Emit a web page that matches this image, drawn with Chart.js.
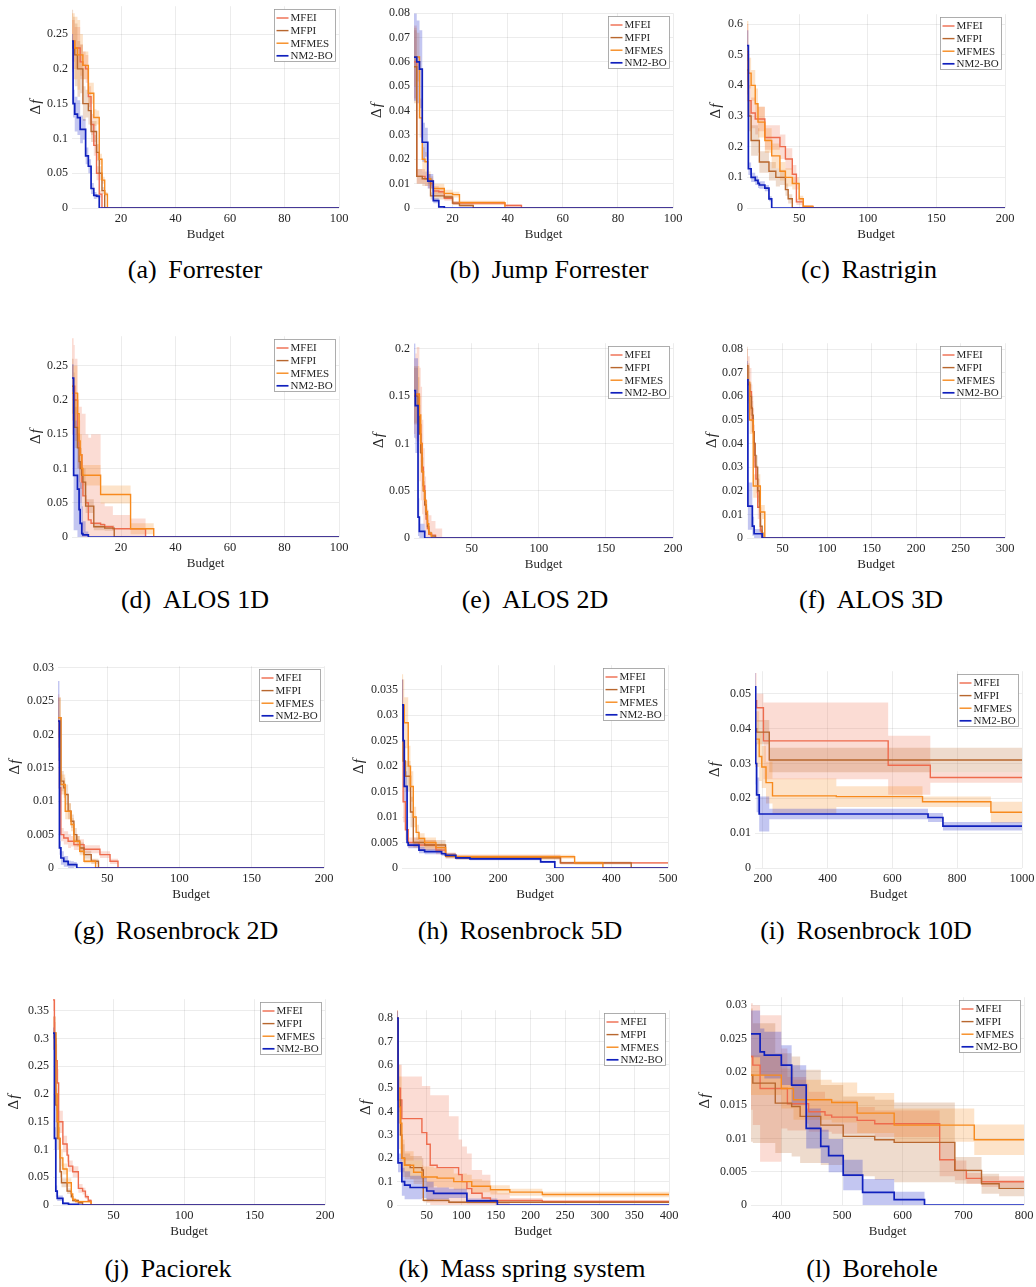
<!DOCTYPE html>
<html lang="en">
<head>
<meta charset="utf-8">
<title>Δf against budget, twelve test problems</title>
<script src="https://cdn.jsdelivr.net/npm/chart.js@4.4.1/dist/chart.umd.min.js"></script>
<style>
  body { margin: 0; background: #fff; }
  #page { position: relative; width: 1036px; height: 1287px; overflow: hidden;
          font-family: "Liberation Serif", "DejaVu Serif", serif; }
  .panel { position: absolute; }
  .caption { position: absolute; font-size: 26px; line-height: 1; color: #000;
             white-space: nowrap; transform: translate(-50%, -50%); }
  .caption .name { margin-left: 0.45em; }
</style>
</head>
<body>
<div id="page"></div>
<script>
// methods, in legend order
const methods = ['MFEI', 'MFPI', 'MFMES', 'NM2-BO'];

// each problem: budget breakpoints, mean Δf per method (MFEI, MFPI, MFMES, NM2-BO) and band half-width

// (a) Forrester
const forresterBudget = [2, 2.4, 3, 4, 5, 6, 7, 8, 9, 10, 11, 12, 13, 14, 15, 16, 100];
const forresterMean = [
  [0.24, 0.24, 0.23, 0.23, 0.21, 0.205, 0.2, 0.16, 0.12, 0.09, 0.05, 0.02, 0, 0, 0, 0, 0],
  [0.24, 0.23, 0.22, 0.2, 0.2, 0.15, 0.15, 0.14, 0.11, 0.11, 0.08, 0.05, 0.025, 0, 0, 0, 0],
  [0.24, 0.24, 0.23, 0.22, 0.22, 0.205, 0.205, 0.165, 0.165, 0.13, 0.13, 0.07, 0.04, 0.02, 0, 0, 0],
  [0.24, 0.15, 0.135, 0.13, 0.113, 0.113, 0.075, 0.06, 0.028, 0.018, 0.017, 0, 0, 0, 0, 0, 0]
];
const forresterSpread = [
  [0.03, 0.03, 0.03, 0.03, 0.025, 0.02, 0.02, 0.015, 0.015, 0.015, 0.01, 0.005, 0, 0, 0, 0, 0],
  [0.045, 0.045, 0.045, 0.04, 0.035, 0.025, 0.02, 0.02, 0.015, 0.015, 0.012, 0.01, 0.005, 0, 0, 0, 0],
  [0.04, 0.04, 0.045, 0.05, 0.03, 0.02, 0.02, 0.015, 0.015, 0.012, 0.01, 0.008, 0.005, 0.003, 0, 0, 0],
  [0.01, 0.02, 0.025, 0.025, 0.02, 0.015, 0.012, 0.01, 0.008, 0.005, 0.003, 0, 0, 0, 0, 0, 0]
];
const forresterXTicks = [20, 40, 60, 80, 100];
const forresterYTicks = [0, 0.05, 0.1, 0.15, 0.2, 0.25];

// (b) Jump Forrester
const jumpBudget = [6, 7, 8, 9, 10, 11, 12, 13, 15, 17, 20, 22.5, 27.5, 39, 45, 100];
const jumpMean = [
  [0.06, 0.013, 0.013, 0.013, 0.012, 0.011, 0.01, 0.007, 0.0067, 0.004, 0.002, 0.002, 0.002, 0.001, 0, 0],
  [0.058, 0.013, 0.013, 0.012, 0.012, 0.012, 0.005, 0.005, 0.005, 0.0045, 0.002, 0.001, 0, 0, 0, 0],
  [0.062, 0.062, 0.037, 0.02, 0.019, 0.012, 0.011, 0.008, 0.008, 0.006, 0.0055, 0.0022, 0.0022, 0, 0, 0],
  [0.062, 0.06, 0.057, 0.027, 0.027, 0.011, 0.011, 0.003, 0.0005, 0, 0, 0, 0, 0, 0, 0]
];
const jumpSpread = [
  [0.015, 0.003, 0.003, 0.003, 0.003, 0.003, 0.002, 0.002, 0.0015, 0.001, 0.0008, 0.0008, 0.0008, 0.0005, 0, 0],
  [0.015, 0.003, 0.003, 0.003, 0.003, 0.002, 0.0015, 0.0015, 0.0015, 0.001, 0.0008, 0.0005, 0, 0, 0, 0],
  [0.012, 0.01, 0.008, 0.005, 0.004, 0.003, 0.002, 0.002, 0.002, 0.0015, 0.0012, 0.0008, 0.0008, 0, 0, 0],
  [0.018, 0.017, 0.016, 0.008, 0.006, 0.003, 0.003, 0.001, 0.0003, 0, 0, 0, 0, 0, 0, 0]
];
const jumpXTicks = [20, 40, 60, 80, 100];
const jumpYTicks = [0, 0.01, 0.02, 0.03, 0.04, 0.05, 0.06, 0.07, 0.08];

// (c) Rastrigin
const rastriginBudget = [12, 13, 15, 18, 20, 21, 25, 28, 30, 33, 36, 40, 42, 45, 48, 50, 53, 60, 200];
const rastriginMean = [
  [0.5, 0.35, 0.31, 0.29, 0.29, 0.29, 0.23, 0.23, 0.23, 0.23, 0.2, 0.16, 0.16, 0.11, 0.02, 0.02, 0.005, 0, 0],
  [0.45, 0.3, 0.22, 0.22, 0.22, 0.15, 0.15, 0.12, 0.12, 0.1, 0.1, 0.06, 0.03, 0, 0, 0, 0, 0, 0],
  [0.51, 0.44, 0.4, 0.34, 0.28, 0.28, 0.22, 0.22, 0.17, 0.17, 0.12, 0.1, 0.1, 0.08, 0.08, 0.03, 0.005, 0, 0],
  [0.53, 0.128, 0.1, 0.09, 0.08, 0.075, 0.065, 0.03, 0, 0, 0, 0, 0, 0, 0, 0, 0, 0, 0]
];
const rastriginSpread = [
  [0.1, 0.05, 0.05, 0.05, 0.04, 0.04, 0.04, 0.04, 0.04, 0.04, 0.04, 0.035, 0.035, 0.03, 0.01, 0.01, 0.003, 0, 0],
  [0.08, 0.05, 0.05, 0.05, 0.04, 0.035, 0.035, 0.03, 0.03, 0.03, 0.025, 0.02, 0.015, 0, 0, 0, 0, 0, 0],
  [0.1, 0.05, 0.05, 0.05, 0.05, 0.05, 0.04, 0.04, 0.04, 0.04, 0.03, 0.03, 0.03, 0.02, 0.02, 0.01, 0.003, 0, 0],
  [0.05, 0.02, 0.015, 0.015, 0.015, 0.012, 0.01, 0.008, 0, 0, 0, 0, 0, 0, 0, 0, 0, 0, 0]
];
const rastriginXTicks = [50, 100, 150, 200];
const rastriginYTicks = [0, 0.1, 0.2, 0.3, 0.4, 0.5, 0.6];

// (d) ALOS 1D
const alos1Budget = [2, 2.6, 3, 4, 4.6, 5, 5.6, 6, 7, 8, 9, 10, 12.5, 14, 17, 17.5, 23.5, 29, 32, 100];
const alos1Mean = [
  [0.22, 0.22, 0.2, 0.15, 0.13, 0.12, 0.08, 0.06, 0.05, 0.025, 0.02, 0.02, 0.018, 0.015, 0.012, 0.012, 0.012, 0, 0, 0],
  [0.22, 0.2, 0.16, 0.13, 0.11, 0.1, 0.09, 0.08, 0.045, 0.045, 0.045, 0.015, 0.015, 0.013, 0.013, 0, 0, 0, 0, 0],
  [0.21, 0.21, 0.21, 0.18, 0.14, 0.12, 0.1, 0.09, 0.09, 0.09, 0.09, 0.09, 0.062, 0.062, 0.062, 0.062, 0.012, 0.012, 0, 0],
  [0.232, 0.09, 0.09, 0.07, 0.04, 0.02, 0.005, 0.003, 0.003, 0, 0, 0, 0, 0, 0, 0, 0, 0, 0, 0]
];
const alos1Spread = [
  [0.07, 0.06, 0.06, 0.05, 0.06, 0.07, 0.1, 0.12, 0.1, 0.12, 0.13, 0.13, 0.032, 0.03, 0.02, 0.02, 0.015, 0, 0, 0],
  [0.04, 0.04, 0.03, 0.03, 0.03, 0.03, 0.02, 0.02, 0.01, 0.01, 0.01, 0.005, 0.005, 0.004, 0.004, 0, 0, 0, 0, 0],
  [0.04, 0.04, 0.04, 0.03, 0.03, 0.03, 0.02, 0.015, 0.015, 0.015, 0.015, 0.015, 0.013, 0.013, 0.013, 0.013, 0.008, 0.008, 0, 0],
  [0.02, 0.08, 0.08, 0.08, 0.07, 0.06, 0.04, 0.02, 0.005, 0, 0, 0, 0, 0, 0, 0, 0, 0, 0, 0]
];
const alos1XTicks = [20, 40, 60, 80, 100];
const alos1YTicks = [0, 0.05, 0.1, 0.15, 0.2, 0.25];

// (e) ALOS 2D
const alos2Budget = [7, 8, 9, 10, 11, 12, 13, 14, 15, 16, 17, 18, 20, 23, 28, 200];
const alos2Mean = [
  [0.15, 0.15, 0.152, 0.152, 0.12, 0.1, 0.075, 0.055, 0.035, 0.02, 0.01, 0.004, 0.003, 0, 0, 0],
  [0.15, 0.15, 0.15, 0.14, 0.11, 0.09, 0.07, 0.05, 0.035, 0.025, 0.012, 0.005, 0.002, 0, 0, 0],
  [0.152, 0.152, 0.152, 0.152, 0.13, 0.1, 0.07, 0.05, 0.04, 0.028, 0.015, 0.005, 0, 0, 0, 0],
  [0.156, 0.14, 0.14, 0.022, 0.007, 0.007, 0.007, 0.007, 0, 0, 0, 0, 0, 0, 0, 0]
];
const alos2Spread = [
  [0.04, 0.045, 0.05, 0.05, 0.06, 0.06, 0.05, 0.04, 0.03, 0.02, 0.02, 0.02, 0.015, 0.01, 0, 0],
  [0.03, 0.03, 0.03, 0.03, 0.02, 0.02, 0.015, 0.01, 0.008, 0.006, 0.004, 0.002, 0.001, 0, 0, 0],
  [0.03, 0.03, 0.03, 0.03, 0.02, 0.02, 0.015, 0.01, 0.008, 0.006, 0.004, 0.002, 0, 0, 0, 0],
  [0.05, 0.05, 0.05, 0.02, 0.008, 0.008, 0.008, 0.008, 0, 0, 0, 0, 0, 0, 0, 0]
];
const alos2XTicks = [50, 100, 150, 200];
const alos2YTicks = [0, 0.05, 0.1, 0.15, 0.2];

// (f) ALOS 3D
const alos3Budget = [10, 11, 13, 15, 16, 17, 18, 19, 20, 22, 24, 25, 27, 28, 30, 300];
const alos3Mean = [
  [0.065, 0.065, 0.062, 0.055, 0.05, 0.045, 0.04, 0.03, 0.025, 0.013, 0.013, 0.003, 0, 0, 0, 0],
  [0.073, 0.065, 0.06, 0.055, 0.052, 0.045, 0.04, 0.035, 0.03, 0.02, 0.013, 0.005, 0.002, 0, 0, 0],
  [0.066, 0.066, 0.05, 0.05, 0.05, 0.022, 0.022, 0.022, 0.022, 0.022, 0.022, 0.011, 0.011, 0.011, 0, 0],
  [0.067, 0.0135, 0.0135, 0.0135, 0.005, 0.005, 0.0018, 0.0018, 0.0018, 0.0018, 0.0018, 0.0018, 0, 0, 0, 0]
];
const alos3Spread = [
  [0.015, 0.012, 0.01, 0.01, 0.01, 0.01, 0.008, 0.008, 0.006, 0.005, 0.005, 0.002, 0, 0, 0, 0],
  [0.008, 0.008, 0.006, 0.006, 0.006, 0.006, 0.005, 0.005, 0.005, 0.005, 0.004, 0.003, 0.001, 0, 0, 0],
  [0.008, 0.008, 0.006, 0.006, 0.006, 0.005, 0.005, 0.005, 0.005, 0.005, 0.005, 0.003, 0.003, 0.003, 0, 0],
  [0.008, 0.01, 0.01, 0.01, 0.004, 0.004, 0.002, 0.002, 0.002, 0.002, 0.002, 0.002, 0, 0, 0, 0]
];
const alos3XTicks = [50, 100, 150, 200, 250, 300];
const alos3YTicks = [0, 0.01, 0.02, 0.03, 0.04, 0.05, 0.06, 0.07, 0.08];

// (g) Rosenbrock 2D
const rosen2Budget = [16, 17, 18, 20, 21, 23, 25, 27, 29, 31, 34, 39, 42, 44, 45, 52, 57.5, 200];
const rosen2Mean = [
  [0.022, 0.012, 0.005, 0.0045, 0.0045, 0.004, 0.004, 0.0035, 0.0035, 0.0035, 0.0028, 0.0028, 0.0028, 0.0028, 0.002, 0.001, 0, 0],
  [0.0225, 0.0225, 0.013, 0.012, 0.011, 0.0085, 0.007, 0.005, 0.004, 0.003, 0.002, 0.001, 0.001, 0, 0, 0, 0, 0],
  [0.0225, 0.0225, 0.0125, 0.0125, 0.0085, 0.0085, 0.0065, 0.004, 0.004, 0.0025, 0.001, 0.001, 0, 0, 0, 0, 0, 0],
  [0.022, 0.003, 0.0015, 0.001, 0.001, 0.0005, 0.0005, 0.0005, 0, 0, 0, 0, 0, 0, 0, 0, 0, 0]
];
const rosen2Spread = [
  [0.004, 0.003, 0.001, 0.001, 0.001, 0.001, 0.0008, 0.0008, 0.0008, 0.0008, 0.0006, 0.0006, 0.0006, 0.0006, 0.0005, 0.0004, 0, 0],
  [0.003, 0.003, 0.0015, 0.0015, 0.0015, 0.0012, 0.001, 0.001, 0.0008, 0.0008, 0.0006, 0.0004, 0.0004, 0, 0, 0, 0, 0],
  [0.003, 0.003, 0.0015, 0.0015, 0.0012, 0.0012, 0.001, 0.0008, 0.0008, 0.0006, 0.0003, 0.0003, 0, 0, 0, 0, 0, 0],
  [0.006, 0.001, 0.001, 0.0008, 0.0008, 0.0006, 0.0005, 0.0004, 0, 0, 0, 0, 0, 0, 0, 0, 0, 0]
];
const rosen2XTicks = [50, 100, 150, 200];
const rosen2YTicks = [0, 0.005, 0.01, 0.015, 0.02, 0.025, 0.03];

// (h) Rosenbrock 5D
const rosen5Budget = [30, 32, 34, 36, 39, 41, 45, 50, 55, 60, 70, 80, 90, 100, 107, 125, 150, 275, 300, 310, 335, 385, 435, 500];
const rosen5Mean = [
  [0.032, 0.013, 0.013, 0.0075, 0.0075, 0.005, 0.005, 0.005, 0.005, 0.0045, 0.0045, 0.0045, 0.0035, 0.0035, 0.0025, 0.0022, 0.0022, 0.0022, 0.0022, 0.001, 0.001, 0.001, 0.001, 0.001],
  [0.032, 0.021, 0.021, 0.018, 0.018, 0.018, 0.011, 0.005, 0.005, 0.005, 0.0045, 0.0045, 0.0045, 0.0045, 0.0023, 0.002, 0.002, 0.002, 0.002, 0.001, 0.001, 0.001, 0, 0],
  [0.032, 0.032, 0.0285, 0.0285, 0.0285, 0.02, 0.016, 0.01, 0.007, 0.0058, 0.005, 0.005, 0.004, 0.004, 0.0025, 0.0022, 0.0022, 0.0022, 0.0022, 0.0022, 0.001, 0, 0, 0],
  [0.032, 0.025, 0.016, 0.016, 0.005, 0.0045, 0.0045, 0.0045, 0.0045, 0.0035, 0.0032, 0.0032, 0.0032, 0.0028, 0.0025, 0.002, 0.0018, 0.0012, 0, 0, 0, 0, 0, 0]
];
const rosen5Spread = [
  [0.005, 0.004, 0.004, 0.002, 0.002, 0.001, 0.001, 0.001, 0.001, 0.001, 0.001, 0.001, 0.0008, 0.0008, 0.0005, 0.0004, 0.0004, 0.0004, 0.0004, 0.0002, 0.0002, 0.0002, 0.0002, 0.0002],
  [0.005, 0.003, 0.003, 0.003, 0.003, 0.003, 0.003, 0.001, 0.001, 0.001, 0.001, 0.001, 0.001, 0.001, 0.0005, 0.0004, 0.0004, 0.0004, 0.0004, 0.0003, 0.0003, 0.0003, 0, 0],
  [0.006, 0.005, 0.005, 0.005, 0.005, 0.004, 0.003, 0.002, 0.0015, 0.001, 0.001, 0.001, 0.0008, 0.0008, 0.0005, 0.0004, 0.0004, 0.0004, 0.0004, 0.0004, 0.0003, 0, 0, 0],
  [0.005, 0.004, 0.003, 0.003, 0.0008, 0.0006, 0.0006, 0.0006, 0.0006, 0.0006, 0.0005, 0.0005, 0.0005, 0.0004, 0.0004, 0.0003, 0.0003, 0.0002, 0, 0, 0, 0, 0, 0]
];
const rosen5XTicks = [100, 200, 300, 400, 500];
const rosen5YTicks = [0, 0.005, 0.01, 0.015, 0.02, 0.025, 0.03, 0.035];

// (i) Rosenbrock 10D
const rosen10Budget = [176, 178, 181, 189, 197, 202, 210, 220, 230, 427, 587, 693, 710, 717, 756, 904, 1000];
const rosen10Mean = [
  [0.048, 0.048, 0.046, 0.046, 0.046, 0.0365, 0.0365, 0.0365, 0.0365, 0.0365, 0.0295, 0.0295, 0.0295, 0.026, 0.026, 0.026, 0.026],
  [0.04, 0.04, 0.039, 0.039, 0.039, 0.039, 0.039, 0.031, 0.031, 0.031, 0.031, 0.031, 0.031, 0.031, 0.031, 0.031, 0.031],
  [0.037, 0.037, 0.037, 0.032, 0.029, 0.029, 0.0245, 0.0245, 0.0207, 0.0205, 0.0205, 0.019, 0.019, 0.019, 0.019, 0.016, 0.016],
  [0.052, 0.03, 0.021, 0.0155, 0.0155, 0.0155, 0.0155, 0.0155, 0.0155, 0.0155, 0.0155, 0.0155, 0.0145, 0.0145, 0.012, 0.012, 0.012]
];
const rosen10Spread = [
  [0.008, 0.008, 0.004, 0.004, 0.004, 0.011, 0.011, 0.011, 0.011, 0.011, 0.0085, 0.0085, 0.0085, 0.0015, 0.0015, 0.0015, 0.0015],
  [0.005, 0.005, 0.0035, 0.0035, 0.0035, 0.0035, 0.0035, 0.0035, 0.0035, 0.0035, 0.0035, 0.0035, 0.0035, 0.0035, 0.0035, 0.0035, 0.0035],
  [0.008, 0.008, 0.008, 0.007, 0.006, 0.006, 0.006, 0.006, 0.005, 0.003, 0.003, 0.0015, 0.0015, 0.0015, 0.0015, 0.003, 0.003],
  [0.004, 0.006, 0.005, 0.005, 0.005, 0.005, 0.005, 0.0015, 0.0015, 0.0015, 0.0015, 0.0015, 0.0013, 0.0013, 0.0012, 0.0012, 0.0012]
];
const rosen10XTicks = [200, 400, 600, 800, 1000];
const rosen10YTicks = [0, 0.01, 0.02, 0.03, 0.04, 0.05];

// (j) Paciorek
const paciorekBudget = [7, 8, 9, 10, 11, 12, 13, 14, 15, 17, 18, 20, 21, 23, 25, 28, 30, 32, 34, 200];
const paciorekMean = [
  [0.37, 0.3, 0.26, 0.22, 0.15, 0.15, 0.15, 0.11, 0.11, 0.09, 0.07, 0.07, 0.06, 0.06, 0.03, 0.025, 0.015, 0.008, 0, 0],
  [0.31, 0.31, 0.18, 0.12, 0.12, 0.06, 0.04, 0.04, 0.04, 0.025, 0.025, 0.015, 0.008, 0.008, 0.004, 0, 0, 0, 0, 0],
  [0.31, 0.31, 0.2, 0.15, 0.12, 0.085, 0.085, 0.065, 0.065, 0.04, 0.04, 0.02, 0.01, 0.006, 0.006, 0.006, 0.006, 0.006, 0, 0],
  [0.31, 0.12, 0.025, 0.012, 0.012, 0.012, 0.012, 0.003, 0.003, 0.003, 0.001, 0.001, 0.001, 0.001, 0, 0, 0, 0, 0, 0]
];
const paciorekSpread = [
  [0.02, 0.03, 0.03, 0.025, 0.02, 0.02, 0.02, 0.015, 0.015, 0.012, 0.01, 0.01, 0.01, 0.01, 0.008, 0.006, 0.004, 0.003, 0, 0],
  [0.03, 0.03, 0.03, 0.02, 0.02, 0.01, 0.008, 0.008, 0.008, 0.005, 0.005, 0.004, 0.003, 0.003, 0.002, 0, 0, 0, 0, 0],
  [0.03, 0.03, 0.03, 0.025, 0.02, 0.015, 0.015, 0.01, 0.01, 0.008, 0.008, 0.005, 0.003, 0.002, 0.002, 0.002, 0.002, 0.002, 0, 0],
  [0.01, 0.02, 0.01, 0.005, 0.005, 0.005, 0.005, 0.002, 0.002, 0.002, 0.001, 0.001, 0.001, 0.001, 0, 0, 0, 0, 0, 0]
];
const paciorekXTicks = [50, 100, 150, 200];
const paciorekYTicks = [0, 0.05, 0.1, 0.15, 0.2, 0.25, 0.3, 0.35];

// (k) Mass spring system
const springBudget = [7, 8.5, 10, 12, 14, 18, 26, 31, 43, 45, 50, 55, 60, 65, 82, 89, 96, 101, 108, 115, 130, 142, 152, 170, 217, 400];
const springMean = [
  [0.8, 0.5, 0.5, 0.45, 0.37, 0.37, 0.37, 0.37, 0.31, 0.31, 0.26, 0.17, 0.17, 0.16, 0.16, 0.16, 0.13, 0.1, 0.07, 0.05, 0.03, 0.02, 0.02, 0.02, 0.015, 0.015],
  [0.8, 0.45, 0.45, 0.3, 0.2, 0.17, 0.16, 0.16, 0.15, 0.02, 0.02, 0.02, 0.02, 0.02, 0.012, 0.012, 0.012, 0.012, 0.012, 0.012, 0.012, 0.012, 0.012, 0.012, 0.012, 0.012],
  [0.8, 0.5, 0.42, 0.35, 0.2, 0.17, 0.17, 0.14, 0.12, 0.12, 0.12, 0.12, 0.12, 0.115, 0.115, 0.1, 0.1, 0.1, 0.1, 0.08, 0.08, 0.065, 0.065, 0.055, 0.045, 0.045],
  [0.8, 0.18, 0.18, 0.18, 0.1, 0.085, 0.075, 0.075, 0.075, 0.075, 0.06, 0.06, 0.05, 0.05, 0.05, 0.05, 0.05, 0.05, 0.018, 0.018, 0.018, 0.018, 0, 0, 0, 0]
];
const springSpread = [
  [0.05, 0.1, 0.1, 0.15, 0.18, 0.18, 0.18, 0.18, 0.2, 0.2, 0.25, 0.3, 0.3, 0.31, 0.22, 0.22, 0.15, 0.15, 0.15, 0.1, 0.1, 0.04, 0.03, 0.01, 0.005, 0.005],
  [0.05, 0.1, 0.1, 0.08, 0.06, 0.05, 0.05, 0.05, 0.05, 0.008, 0.008, 0.008, 0.008, 0.008, 0.005, 0.005, 0.005, 0.005, 0.005, 0.005, 0.005, 0.005, 0.005, 0.005, 0.005, 0.005],
  [0.05, 0.15, 0.18, 0.2, 0.08, 0.06, 0.06, 0.05, 0.05, 0.045, 0.045, 0.045, 0.04, 0.04, 0.04, 0.035, 0.035, 0.035, 0.03, 0.03, 0.025, 0.02, 0.02, 0.015, 0.012, 0.012],
  [0.03, 0.04, 0.04, 0.04, 0.06, 0.06, 0.05, 0.05, 0.045, 0.045, 0.04, 0.04, 0.025, 0.025, 0.02, 0.02, 0.02, 0.02, 0.01, 0.01, 0.01, 0.01, 0, 0, 0, 0]
];
const springXTicks = [50, 100, 150, 200, 250, 300, 350, 400];
const springYTicks = [0, 0.1, 0.2, 0.3, 0.4, 0.5, 0.6, 0.7, 0.8];

// (l) Borehole
const boreholeBudget = [350, 353, 365, 372, 390, 400, 410, 417, 420, 431, 441, 445, 465, 472, 478, 483, 502, 525, 534, 554, 586, 636, 661, 686, 705, 718, 730, 759, 800];
const boreholeMean = [
  [0.0223, 0.021, 0.0175, 0.0175, 0.0175, 0.0175, 0.0152, 0.0152, 0.0152, 0.0152, 0.0152, 0.014, 0.014, 0.0135, 0.0135, 0.0132, 0.0132, 0.0127, 0.0127, 0.0122, 0.0122, 0.0122, 0.0068, 0.0052, 0.004, 0.004, 0.0035, 0.0035, 0.0035],
  [0.0195, 0.0183, 0.0183, 0.0183, 0.0153, 0.0153, 0.0153, 0.0148, 0.0148, 0.0133, 0.0133, 0.0133, 0.012, 0.012, 0.012, 0.012, 0.0103, 0.0103, 0.0103, 0.0098, 0.0094, 0.0094, 0.0094, 0.0052, 0.0052, 0.0052, 0.0032, 0.0025, 0.0025],
  [0.0195, 0.0195, 0.0195, 0.0195, 0.0195, 0.0175, 0.0175, 0.0175, 0.0158, 0.0158, 0.0158, 0.0158, 0.0158, 0.0158, 0.0158, 0.0154, 0.0154, 0.0138, 0.0138, 0.0138, 0.012, 0.012, 0.012, 0.012, 0.012, 0.0098, 0.0098, 0.0098, 0.0098],
  [0.0257, 0.0257, 0.023, 0.0225, 0.0225, 0.021, 0.021, 0.018, 0.018, 0.018, 0.0115, 0.0115, 0.0088, 0.0088, 0.0074, 0.0074, 0.0045, 0.0045, 0.0019, 0.0019, 0.0008, 0, 0, 0, 0, 0, 0, 0, 0]
];
const boreholeSpread = [
  [0.008, 0.009, 0.011, 0.011, 0.011, 0.006, 0.004, 0.004, 0.004, 0.004, 0.003, 0.003, 0.003, 0.0025, 0.0025, 0.0025, 0.0025, 0.002, 0.002, 0.002, 0.002, 0.002, 0.0025, 0.0015, 0.0008, 0.0008, 0.0008, 0.0008, 0.0008],
  [0.01, 0.009, 0.009, 0.009, 0.0075, 0.0075, 0.0075, 0.0075, 0.0075, 0.007, 0.007, 0.007, 0.006, 0.006, 0.006, 0.006, 0.006, 0.006, 0.006, 0.006, 0.006, 0.006, 0.006, 0.002, 0.002, 0.002, 0.0015, 0.0012, 0.0012],
  [0.003, 0.003, 0.003, 0.003, 0.003, 0.003, 0.003, 0.003, 0.003, 0.003, 0.003, 0.003, 0.003, 0.003, 0.003, 0.003, 0.003, 0.003, 0.003, 0.003, 0.0025, 0.0025, 0.0025, 0.0025, 0.0025, 0.0023, 0.0023, 0.0023, 0.0023],
  [0.0035, 0.0035, 0.0035, 0.0035, 0.0035, 0.003, 0.003, 0.003, 0.003, 0.003, 0.003, 0.003, 0.0025, 0.0025, 0.0025, 0.0025, 0.0023, 0.0023, 0.002, 0.002, 0.0012, 0, 0, 0, 0, 0, 0, 0, 0]
];
const boreholeXTicks = [400, 500, 600, 700, 800];
const boreholeYTicks = [0, 0.005, 0.01, 0.015, 0.02, 0.025, 0.03];

// ---- styling ----
const lineColors = ['#ee6b4d', '#b8672e', '#f78a1d', '#1020bd'];
const bandColors = ['rgba(238,107,77,0.24)', 'rgba(184,103,46,0.24)', 'rgba(247,138,29,0.24)', 'rgba(40,52,205,0.28)'];
const ink = '#262626';
const gridColor = 'rgba(0,0,0,0.075)';
const serif = '"Liberation Serif", "Times New Roman", serif';
Chart.defaults.font.family = serif;

// plot: [left, top, right, bottom] of the axes box; titleGap: Δf label offset left of the axes
const panels = [
  { tag: '(a)', name: 'Forrester', budget: forresterBudget, mean: forresterMean, spread: forresterSpread,
    xTicks: forresterXTicks, yTicks: forresterYTicks, xMin: 2, xMax: 100, yMax: 0.29,
    plot: [72, 3, 339, 208], titleGap: 36, captionAt: [195, 270] },
  { tag: '(b)', name: 'Jump Forrester', budget: jumpBudget, mean: jumpMean, spread: jumpSpread,
    xTicks: jumpXTicks, yTicks: jumpYTicks, xMin: 6, xMax: 100, yMax: 0.08,
    plot: [414, 10, 673, 208], titleGap: 37, captionAt: [549, 270] },
  { tag: '(c)', name: 'Rastrigin', budget: rastriginBudget, mean: rastriginMean, spread: rastriginSpread,
    xTicks: rastriginXTicks, yTicks: rastriginYTicks, xMin: 12, xMax: 200, yMax: 0.632,
    plot: [747, 11, 1005, 208], titleGap: 31, captionAt: [869, 270] },
  { tag: '(d)', name: 'ALOS 1D', budget: alos1Budget, mean: alos1Mean, spread: alos1Spread,
    xTicks: alos1XTicks, yTicks: alos1YTicks, xMin: 2, xMax: 100, yMax: 0.293,
    plot: [72, 333, 339, 537], titleGap: 36, captionAt: [195, 600] },
  { tag: '(e)', name: 'ALOS 2D', budget: alos2Budget, mean: alos2Mean, spread: alos2Spread,
    xTicks: alos2XTicks, yTicks: alos2YTicks, xMin: 7, xMax: 200, yMax: 0.206,
    plot: [414, 340, 673, 538], titleGap: 35, captionAt: [535, 600] },
  { tag: '(f)', name: 'ALOS 3D', budget: alos3Budget, mean: alos3Mean, spread: alos3Spread,
    xTicks: alos3XTicks, yTicks: alos3YTicks, xMin: 10, xMax: 300, yMax: 0.0825,
    plot: [747, 340, 1005, 538], titleGap: 35, captionAt: [871, 600] },
  { tag: '(g)', name: 'Rosenbrock 2D', budget: rosen2Budget, mean: rosen2Mean, spread: rosen2Spread,
    xTicks: rosen2XTicks, yTicks: rosen2YTicks, xMin: 16, xMax: 200, yMax: 0.0302,
    plot: [58, 663, 324, 868], titleGap: 43, captionAt: [176, 931] },
  { tag: '(h)', name: 'Rosenbrock 5D', budget: rosen5Budget, mean: rosen5Mean, spread: rosen5Spread,
    xTicks: rosen5XTicks, yTicks: rosen5YTicks, xMin: 30, xMax: 500, yMax: 0.0398,
    plot: [402, 662, 668, 868], titleGap: 43, captionAt: [520, 931] },
  { tag: '(i)', name: 'Rosenbrock 10D', budget: rosen10Budget, mean: rosen10Mean, spread: rosen10Spread,
    xTicks: rosen10XTicks, yTicks: rosen10YTicks, xMin: 176, xMax: 1000, yMax: 0.0565,
    plot: [755, 668, 1022, 868], titleGap: 40, captionAt: [866, 931] },
  { tag: '(j)', name: 'Paciorek', budget: paciorekBudget, mean: paciorekMean, spread: paciorekSpread,
    xTicks: paciorekXTicks, yTicks: paciorekYTicks, xMin: 7, xMax: 200, yMax: 0.371,
    plot: [53, 996, 325, 1205], titleGap: 39, captionAt: [168, 1269] },
  { tag: '(k)', name: 'Mass spring system', budget: springBudget, mean: springMean, spread: springSpread,
    xTicks: springXTicks, yTicks: springYTicks, xMin: 7, xMax: 400, yMax: 0.834,
    plot: [397, 1007, 669, 1205], titleGap: 31, captionAt: [522, 1269] },
  { tag: '(l)', name: 'Borehole', budget: boreholeBudget, mean: boreholeMean, spread: boreholeSpread,
    xTicks: boreholeXTicks, yTicks: boreholeYTicks, xMin: 350, xMax: 800, yMax: 0.0312,
    plot: [751, 994, 1024, 1205], titleGap: 46, captionAt: [872, 1269] }
];

// boxed legend in the upper right corner of the axes
const boxLegend = {
  id: 'boxLegend',
  afterDatasetsDraw(chart) {
    const { ctx, chartArea } = chart;
    const items = chart.data.datasets.filter(d => d.isMean);
    ctx.save();
    ctx.font = '11px ' + serif;
    const textW = Math.max(...items.map(d => ctx.measureText(d.label).width));
    const rowH = 12.6;
    const w = Math.round(16 + textW + 3), h = 52;
    const x0 = Math.round(chartArea.right - 4 - w) + 0.5;
    const y0 = Math.round(chartArea.top + 3) + 0.5;
    ctx.fillStyle = '#fff';
    ctx.fillRect(x0, y0, w, h);
    ctx.strokeStyle = '#9a9a9a';
    ctx.lineWidth = 0.8;
    ctx.strokeRect(x0, y0, w, h);
    ctx.textBaseline = 'middle';
    items.forEach((d, i) => {
      const cy = y0 + 8.5 + i * rowH;
      ctx.strokeStyle = d.borderColor;
      ctx.lineWidth = d.borderWidth;
      ctx.beginPath();
      ctx.moveTo(x0 + 2, cy);
      ctx.lineTo(x0 + 14, cy);
      ctx.stroke();
      ctx.fillStyle = ink;
      ctx.fillText(d.label, x0 + 16, cy + 0.5);
    });
    ctx.restore();
  }
};

// rotated "Δf" with an italic f
const deltaTitle = {
  id: 'deltaTitle',
  afterDraw(chart, args, opts) {
    const { ctx, chartArea } = chart;
    ctx.save();
    ctx.translate(chartArea.left - opts.gap, (chartArea.top + chartArea.bottom) / 2);
    ctx.rotate(-Math.PI / 2);
    ctx.fillStyle = ink;
    ctx.textBaseline = 'middle';
    ctx.font = '15px ' + serif;
    const dw = ctx.measureText('Δ').width;
    ctx.font = 'italic 15px ' + serif;
    const fw = ctx.measureText('f').width;
    const x = -(dw + fw + 1) / 2;
    ctx.font = '15px ' + serif;
    ctx.fillText('Δ', x, 0);
    ctx.font = 'italic 15px ' + serif;
    ctx.fillText('f', x + dw + 1, 0);
    ctx.restore();
  }
};

const page = document.getElementById('page');

function bandEdge(p, k, sign) {
  return p.budget.map((x, i) => ({ x, y: Math.max(0, p.mean[k][i] + sign * p.spread[k][i]) }));
}

function buildPanel(p) {
  const [l, t, r, b] = p.plot;
  const W = p.titleGap + 12, topPad = 8, rightPad = 16, H = 36;

  const holder = document.createElement('div');
  holder.className = 'panel';
  holder.style.left = (l - W) + 'px';
  holder.style.top = (t - topPad) + 'px';
  const canvas = document.createElement('canvas');
  canvas.width = W + (r - l) + rightPad;
  canvas.height = topPad + (b - t) + H;
  holder.appendChild(canvas);
  page.appendChild(holder);

  const datasets = [];
  methods.forEach((name, k) => {
    datasets.push({
      label: name, isMean: true,
      data: p.budget.map((x, i) => ({ x, y: p.mean[k][i] })),
      borderColor: lineColors[k], borderWidth: k === 3 ? 1.7 : 1.4,
      stepped: 'before', pointRadius: 0, fill: false, order: 3 - k
    });
  });
  methods.forEach((name, k) => {
    datasets.push({
      label: name + ' upper', data: bandEdge(p, k, 1),
      borderColor: 'transparent', borderWidth: 0, backgroundColor: bandColors[k],
      stepped: 'before', pointRadius: 0, fill: '+1', order: 13 - k
    });
    datasets.push({
      label: name + ' lower', data: bandEdge(p, k, -1),
      borderColor: 'transparent', borderWidth: 0,
      stepped: 'before', pointRadius: 0, fill: false, order: 13 - k
    });
  });

  new Chart(canvas, {
    type: 'line',
    data: { datasets },
    options: {
      responsive: false,
      animation: false,
      events: [],
      layout: { padding: { left: 0, top: topPad, right: rightPad, bottom: 0 } },
      scales: {
        x: {
          type: 'linear', min: p.xMin, max: p.xMax,
          afterBuildTicks: s => { s.ticks = p.xTicks.map(v => ({ value: v })); },
          afterFit: s => { s.height = H; },
          ticks: { autoSkip: false, maxRotation: 0, padding: 3, color: ink,
                   font: { size: 12.5 }, callback: v => String(v) },
          grid: { color: gridColor, drawTicks: false },
          border: { display: false },
          title: { display: true, text: 'Budget', color: ink, font: { size: 13 },
                   padding: { top: 0, bottom: 2 } }
        },
        y: {
          type: 'linear', min: 0, max: p.yMax,
          afterBuildTicks: s => { s.ticks = p.yTicks.map(v => ({ value: v })); },
          afterFit: s => { s.width = W; },
          ticks: { autoSkip: false, padding: 4, color: ink,
                   font: { size: 12 }, callback: v => String(v) },
          grid: { color: gridColor, drawTicks: false },
          border: { display: false }
        }
      },
      plugins: {
        legend: { display: false },
        tooltip: { enabled: false },
        deltaTitle: { gap: p.titleGap }
      }
    },
    plugins: [boxLegend, deltaTitle]
  });

  const cap = document.createElement('div');
  cap.className = 'caption';
  cap.style.left = p.captionAt[0] + 'px';
  cap.style.top = p.captionAt[1] + 'px';
  const tag = document.createElement('span');
  tag.textContent = p.tag;
  const name = document.createElement('span');
  name.className = 'name';
  name.textContent = p.name;
  cap.appendChild(tag);
  cap.appendChild(name);
  page.appendChild(cap);
}

panels.forEach(buildPanel);
</script>
</body>
</html>
